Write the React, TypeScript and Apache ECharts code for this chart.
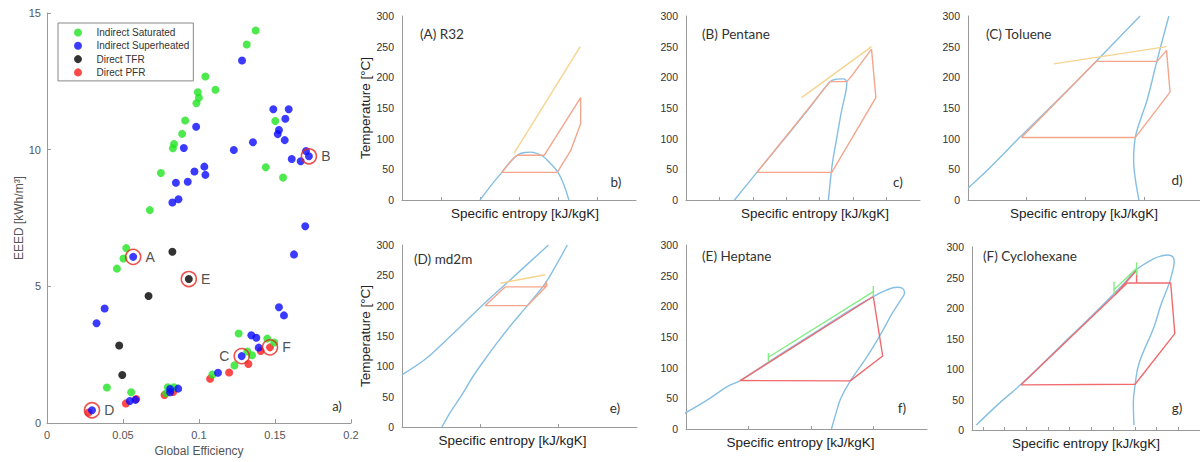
import React, { useEffect, useRef } from "react";
import * as echarts from "echarts";

// ---------- Scatter (a) data: [Global Efficiency, EEED kWh/m3] ----------
const saturatedPts = [
  [0.1373, 14.36], [0.1314, 13.85], [0.1042, 12.68], [0.1108, 12.19], [0.0992, 12.1],
  [0.0999, 11.9], [0.0983, 11.7], [0.0909, 11.07], [0.0889, 10.58], [0.0836, 10.21],
  [0.0828, 10.05], [0.0749, 9.15], [0.0677, 7.79], [0.1502, 11.05], [0.1439, 9.36],
  [0.1553, 8.98], [0.0521, 6.4], [0.0503, 6.02], [0.046, 5.65], [0.0394, 1.3],
  [0.0554, 1.13], [0.1261, 3.28], [0.1449, 3.09], [0.1495, 2.95], [0.1318, 2.62],
  [0.1349, 2.48], [0.1233, 2.11], [0.1088, 1.78], [0.0795, 1.31], [0.0836, 1.31],
  [0.0784, 1.09],
];
const superheatedPts = [
  [0.1283, 13.26], [0.1489, 11.48], [0.159, 11.48], [0.1568, 11.13], [0.1526, 10.72],
  [0.1518, 10.57], [0.1564, 10.35], [0.0981, 10.84], [0.09, 10.06], [0.1229, 9.99],
  [0.1355, 10.27], [0.161, 9.66], [0.1669, 9.58], [0.1704, 9.95], [0.1723, 9.76],
  [0.1035, 9.38], [0.097, 9.2], [0.1042, 9.08], [0.0848, 8.79], [0.0926, 8.83],
  [0.0865, 8.19], [0.0825, 8.07], [0.1699, 7.2], [0.0567, 6.08], [0.0379, 4.19],
  [0.0326, 3.65], [0.1526, 4.24], [0.1559, 3.94], [0.1625, 6.17], [0.1344, 3.21],
  [0.1377, 3.12], [0.1393, 2.76], [0.1281, 2.45], [0.1125, 1.84], [0.0863, 1.26],
  [0.081, 1.25], [0.081, 1.13], [0.0582, 0.85], [0.0545, 0.81], [0.0296, 0.47],
];
const directTfrPts = [
  [0.0825, 6.27], [0.0933, 5.27], [0.0668, 4.65], [0.0475, 2.84], [0.0495, 1.76],
];
const directPfrPts = [
  [0.1467, 2.77], [0.1406, 2.64], [0.1325, 2.16], [0.1198, 1.85], [0.1073, 1.62],
  [0.083, 1.14], [0.0773, 1.03], [0.0587, 0.88], [0.0519, 0.72], [0.0273, 0.39],
];
const markedNames = ["A", "B", "C", "D", "E", "F"];
const markedPts = [
  [0.0567, 6.08], [0.1723, 9.76], [0.1281, 2.45], [0.0296, 0.47], [0.0933, 5.27], [0.1467, 2.77],
];
const effTicks = [0, 0.05, 0.1, 0.15, 0.2];
const eeedTicks = [0, 5, 10, 15];

// ---------- T-s diagrams: [entropy (arbitrary units), temperature °C] ----------
const r32Dome = [[2.0, 0], [2.3, 25], [2.56, 45], [2.8, 64], [2.98, 74], [3.15, 77.5], [3.3, 78], [3.45, 76], [3.62, 71], [3.8, 60], [4.0, 45], [4.15, 25], [4.28, 0]];
const r32Cycle = [[2.56, 45], [2.8, 64], [2.95, 73], [3.65, 73], [4.58, 167], [4.58, 124], [4.32, 80], [3.98, 45], [2.56, 45]];
const r32Source = [[2.88, 77], [4.57, 250]];

const pentaneDome = [[1.45, 0], [2.12, 45], [2.92, 98], [3.71, 151], [4.31, 193], [4.51, 197], [4.71, 197.5], [4.81, 192], [4.79, 179], [4.66, 147], [4.5, 98], [4.38, 60], [4.31, 27], [4.26, 0]];
const pentaneCycle = [[2.12, 45], [4.31, 193], [4.81, 193], [4.95, 202], [5.55, 246], [5.68, 167], [4.36, 45], [2.12, 45]];
const pentaneSource = [[3.46, 167], [5.55, 250]];

const tolueneLiquid = [[0, 19], [0.45, 60], [0.89, 103], [1.55, 165], [2.2, 228], [2.93, 300]];
const tolueneVapour = [[2.91, 0], [2.84, 40], [2.82, 65], [2.85, 103], [2.95, 135], [3.05, 163], [3.22, 228], [3.42, 300]];
const tolueneCycle = [[0.91, 102], [2.18, 226], [3.22, 226], [3.38, 244], [3.44, 176], [2.85, 102], [0.91, 102]];
const tolueneSource = [[1.46, 222], [3.38, 250]];

const md2mLiquid = [[0, 86], [0.3, 112], [0.62, 150], [1.02, 200], [1.36, 240], [1.87, 300]];
const md2mVapour = [[0.51, 0], [0.62, 25], [0.75, 50], [0.9, 82], [1.05, 110], [1.22, 140], [1.41, 171], [1.6, 200], [1.83, 237], [2.11, 300]];
const md2mCycle = [[1.06, 200], [1.32, 231], [1.82, 231], [1.84, 240], [1.85, 233], [1.6, 200], [1.06, 200]];
const md2mSource = [[1.26, 237], [1.83, 251]];

const heptaneDome = [[-0.05, 24], [0.35, 48], [0.66, 69], [0.87, 79], [1.5, 121], [2.0, 153], [2.63, 194], [3.0, 216], [3.2, 226], [3.38, 231], [3.47, 229], [3.5, 222], [3.45, 212], [3.3, 188], [3.11, 153], [2.9, 118], [2.63, 78], [2.48, 50], [2.4, 25], [2.33, 0]];
const heptaneCycle = [[0.87, 79], [3.0, 216], [3.15, 119], [2.63, 78.5], [0.87, 79]];
const heptaneSource = [[1.32, 110], [1.32, 124], [1.32, 117], [3.0, 224], [3.0, 233], [3.0, 216]];

const cyclohexaneDome = [[0.2, 8], [1.2, 42], [2.23, 74], [4.0, 135], [5.77, 196], [7.0, 240], [7.54, 262], [8.38, 281], [8.8, 286], [9.0, 287], [9.25, 284], [9.31, 275], [9.2, 255], [9.08, 240], [8.7, 205], [8.38, 169], [7.69, 109], [7.51, 74], [7.43, 44], [7.46, 8]];
const cyclohexaneCycle = [[2.26, 74], [7.15, 241], [9.15, 241], [9.34, 158], [7.51, 75], [2.26, 74]];
const cyclohexaneTop = [[6.6, 222], [7.58, 262], [7.58, 241]];
const cyclohexaneSource = [[6.54, 223], [6.54, 243], [6.54, 230], [7.58, 265], [7.58, 275], [7.58, 254]];

const tempTicks = [0, 50, 100, 150, 200, 250, 300];

const FONT = "'Liberation Sans', Arial, sans-serif";
const TFONT = "Lato, 'Liberation Sans', sans-serif";
const C_BLUE = "#86bfe2";
const C_ORANGE = "#f4a68c";
const C_YELLOW = "#f6d490";
const C_RED = "#f06a6e";
const C_GREEN = "#84ec84";

type Panel = {
  left: number; top: number; width: number; height: number; xMax: number; ticks: number[];
  title: string; tx: number; ty: number; letter: string; lx: number; ly: number;
  yName: boolean; namePad: number;
  lines: { data: number[][]; color: string; smooth?: number }[];
};

const panels: Panel[] = [
  { left: 402, top: 16, width: 234, height: 184, xMax: 6, ticks: [1, 2, 3, 4, 5], title: "(A) R32", tx: 420, ty: 34, letter: "b)", lx: 616, ly: 182, yName: true, namePad: 12,
    lines: [{ data: r32Dome, color: C_BLUE, smooth: 0.4 }, { data: r32Cycle, color: C_ORANGE }, { data: r32Source, color: C_YELLOW }] },
  { left: 686, top: 16, width: 234, height: 184, xMax: 7, ticks: [1, 2, 3, 4, 5, 6], title: "(B) Pentane", tx: 702, ty: 34, letter: "c)", lx: 898, ly: 182, yName: false, namePad: 24,
    lines: [{ data: pentaneDome, color: C_BLUE, smooth: 0.4 }, { data: pentaneCycle, color: C_ORANGE }, { data: pentaneSource, color: C_YELLOW }] },
  { left: 968, top: 16, width: 232, height: 184, xMax: 3.95, ticks: [1, 2, 3], title: "(C) Toluene", tx: 986, ty: 34, letter: "d)", lx: 1177, ly: 180, yName: false, namePad: 0,
    lines: [{ data: tolueneLiquid, color: C_BLUE, smooth: 0.3 }, { data: tolueneVapour, color: C_BLUE, smooth: 0.4 }, { data: tolueneCycle, color: C_ORANGE }, { data: tolueneSource, color: C_YELLOW }] },
  { left: 402, top: 245, width: 235, height: 182, xMax: 3, ticks: [1, 2], title: "(D) md2m", tx: 414, ty: 259, letter: "e)", lx: 615, ly: 408, yName: true, namePad: -14,
    lines: [{ data: md2mLiquid, color: C_BLUE, smooth: 0.3 }, { data: md2mVapour, color: C_BLUE, smooth: 0.3 }, { data: md2mCycle, color: C_ORANGE }, { data: md2mSource, color: C_YELLOW }] },
  { left: 686, top: 245, width: 241, height: 184, xMax: 3.86, ticks: [1, 2, 3], title: "(E) Heptane", tx: 702, ty: 256, letter: "f)", lx: 902, ly: 408, yName: false, namePad: -12,
    lines: [{ data: heptaneDome, color: C_BLUE, smooth: 0.4 }, { data: heptaneCycle, color: C_RED }, { data: heptaneSource, color: C_GREEN }] },
  { left: 972, top: 247, width: 228, height: 183, xMax: 10.5, ticks: [0.5, 1.5, 2.5, 3.5, 4.5, 5.5, 6.5, 7.5, 8.5, 9.5], title: "(F) Cyclohexane", tx: 983, ty: 256, letter: "g)", lx: 1177, ly: 408, yName: false, namePad: 0,
    lines: [{ data: cyclohexaneDome, color: C_BLUE, smooth: 0.4 }, { data: cyclohexaneCycle, color: C_RED }, { data: cyclohexaneTop, color: C_RED }, { data: cyclohexaneSource, color: C_GREEN }] },
];

function buildOption() {
  const grids: any[] = [{ left: 47, top: 13, width: 304, height: 412 }];
  const xAxes: any[] = [{
    type: "value", gridIndex: 0, min: 0, max: 0.2, interval: 0.05,
    axisLine: { lineStyle: { color: "#9a9a9a" } },
    axisTick: { inside: true, length: 4, lineStyle: { color: "#9a9a9a" }, customValues: effTicks },
    axisLabel: { color: "#555", fontSize: 11, fontFamily: FONT, margin: 6, customValues: effTicks },
    splitLine: { show: false },
    name: "Global Efficiency", nameLocation: "middle", nameGap: 21,
    nameTextStyle: { color: "#555", fontSize: 12, fontFamily: FONT },
  }];
  const yAxes: any[] = [{
    type: "value", gridIndex: 0, min: 0, max: 15, interval: 5,
    axisLine: { show: true, lineStyle: { color: "#9a9a9a" } },
    axisTick: { show: true, inside: true, length: 4, lineStyle: { color: "#9a9a9a" }, customValues: eeedTicks },
    axisLabel: { color: "#555", fontSize: 11, fontFamily: FONT, margin: 6, customValues: eeedTicks },
    splitLine: { show: false },
    name: "EEED [kWh/m\u00b3]", nameLocation: "middle", nameGap: 22,
    nameTextStyle: { color: "#555", fontSize: 12, fontFamily: FONT },
  }];
  const series: any[] = [
    { type: "scatter", name: "Direct PFR", data: directPfrPts, symbolSize: 8, itemStyle: { color: "#ff1a1a" }, xAxisIndex: 0, yAxisIndex: 0 },
    { type: "scatter", name: "Indirect Saturated", data: saturatedPts, symbolSize: 8, itemStyle: { color: "#22e422" }, xAxisIndex: 0, yAxisIndex: 0 },
    { type: "scatter", name: "Indirect Superheated", data: superheatedPts, symbolSize: 8, itemStyle: { color: "#0a0aff" }, xAxisIndex: 0, yAxisIndex: 0 },
    { type: "scatter", name: "Direct TFR", data: directTfrPts, symbolSize: 8, itemStyle: { color: "#000000" }, xAxisIndex: 0, yAxisIndex: 0 },
    {
      type: "scatter", name: "marked", xAxisIndex: 0, yAxisIndex: 0, symbolSize: 15, z: 5,
      itemStyle: { color: "rgba(0,0,0,0)", borderColor: "#e8261e", borderWidth: 1.6 },
      data: markedPts.map((p, i) => ({ value: p, name: markedNames[i], label: markedNames[i] === "C" ? { position: "left" } : undefined })),
      label: { show: true, position: "right", distance: 4, formatter: (p: any) => p.name, fontSize: 14, color: "#222", fontFamily: FONT },
    },
  ];
  const graphic: any[] = [
    { type: "text", x: 337, y: 406, style: { text: "a)", font: `13px ${TFONT}`, fill: "#333", align: "center", verticalAlign: "middle" } },
  ];

  panels.forEach((p, k) => {
    const gi = k + 1;
    grids.push({ left: p.left, top: p.top, width: p.width, height: p.height });
    xAxes.push({
      type: "value", gridIndex: gi, min: 0, max: p.xMax,
      axisLine: { lineStyle: { color: "#9a9a9a" } },
      axisTick: { show: true, inside: true, length: 3, lineStyle: { color: "#9a9a9a" }, customValues: p.ticks },
      axisLabel: { show: false }, splitLine: { show: false },
      name: "Specific entropy [kJ/kgK]", nameLocation: "middle", nameGap: 6,
      nameTextStyle: { color: "#222", fontSize: 13.5, fontFamily: FONT, padding: p.namePad >= 0 ? [0, 0, 0, p.namePad] : [0, -p.namePad, 0, 0] },
    });
    yAxes.push({
      type: "value", gridIndex: gi, min: 0, max: 300, interval: 50,
      axisLine: { show: true, lineStyle: { color: "#9a9a9a" } },
      axisTick: { show: false },
      axisLabel: { color: "#333", fontSize: 10.5, fontFamily: FONT, margin: 8, customValues: tempTicks },
      splitLine: { show: false },
      name: p.yName ? "Temperature [\u00b0C]" : "", nameLocation: "middle", nameGap: 27,
      nameTextStyle: { color: "#222", fontSize: 13.5, fontFamily: FONT },
    });
    p.lines.forEach((l) => {
      series.push({
        type: "line", xAxisIndex: gi, yAxisIndex: gi, data: l.data, showSymbol: false, symbol: "none",
        smooth: l.smooth || false, silent: true, lineStyle: { color: l.color, width: 1.4 },
      });
    });
    graphic.push({ type: "text", x: p.tx, y: p.ty, style: { text: p.title, font: `13.5px ${TFONT}`, fill: "#333", align: "left", verticalAlign: "middle" } });
    graphic.push({ type: "text", x: p.lx, y: p.ly, style: { text: p.letter, font: `13.5px ${TFONT}`, fill: "#333", align: "center", verticalAlign: "middle" } });
  });

  return {
    animation: false,
    backgroundColor: "#ffffff",
    grid: grids, xAxis: xAxes, yAxis: yAxes, series, graphic,
    legend: {
      data: ["Indirect Saturated", "Indirect Superheated", "Direct TFR", "Direct PFR"],
      orient: "vertical", left: 58, top: 23,
      padding: [3, 4, 2, 16], itemGap: 0.3, itemWidth: 27, itemHeight: 8, icon: "circle",
      borderColor: "#888", borderWidth: 1, backgroundColor: "#fff",
      textStyle: { fontSize: 10, color: "#333", fontFamily: FONT, lineHeight: 13 },
      selectedMode: false,
    },
  };
}

export default function App() {
  const ref = useRef<HTMLDivElement>(null);
  useEffect(() => {
    if (!ref.current) return;
    const chart = echarts.init(ref.current, undefined, { renderer: "svg" });
    chart.setOption(buildOption() as any);
    return () => chart.dispose();
  }, []);
  return <div ref={ref} style={{ position: "absolute", left: 0, top: 0, width: 1200, height: 462 }} />;
}
